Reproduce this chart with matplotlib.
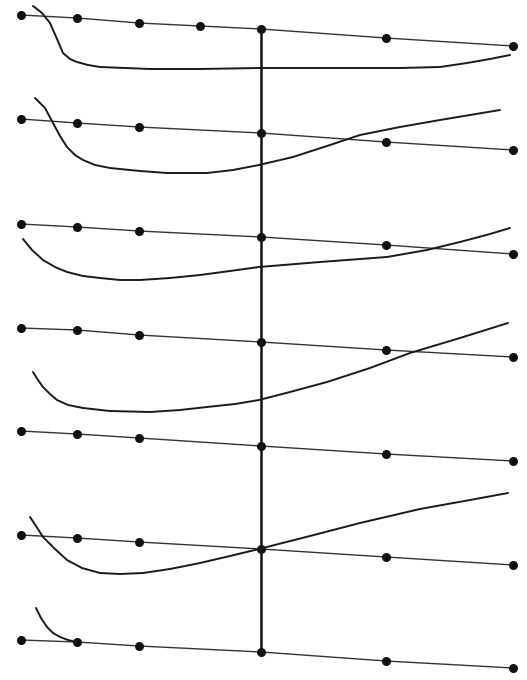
import numpy as np
from matplotlib import pyplot as plt

# dot positions along x (row 1 has one extra point at 200)
x_dots = [21, 77, 139, 261, 386, 513]
x_dots_row1 = [21, 77, 139, 200, 261, 386, 513]

# dot heights for each row (pixel-like units, measured downward)
row1 = [15, 18, 23, 26, 29, 38, 46]
row2 = [119, 123, 127, 133, 142, 150]
row3 = [224, 227, 231, 237, 245, 254]
row4 = [328, 330, 335, 342, 350, 357]
row5 = [431, 434, 438, 446, 454, 461]
row6 = [535, 538, 542, 549, 557, 565]
row7 = [640, 642, 646, 652, 661, 668]

# curves
c1_x = [33, 42, 50, 57, 63, 70, 77, 88, 100, 125, 150, 200, 259, 310, 360, 400, 440, 467, 490, 510]
c1_y = [6, 13, 23, 39, 53, 59, 62, 65, 67, 68, 69, 69, 68, 68, 68, 68, 67, 63, 59, 55]
c2_x = [35, 45, 53, 60, 67, 75, 83, 95, 110, 140, 167, 207, 233, 259, 293, 330, 360, 400, 440, 500]
c2_y = [98, 108, 123, 136, 147, 155, 160, 165, 168, 171, 173, 173, 170, 165, 157, 145, 135, 127, 120, 110]
c3_x = [23, 32, 43, 55, 67, 83, 100, 120, 140, 170, 200, 230, 259, 320, 387, 427, 460, 490, 510]
c3_y = [239, 250, 260, 267, 272, 276, 278, 280, 280, 278, 275, 271, 267, 262, 257, 250, 242, 234, 228]
c4_x = [33, 38, 43, 50, 57, 68, 83, 110, 150, 180, 207, 235, 259, 290, 327, 370, 410, 460, 508]
c4_y = [372, 380, 387, 394, 400, 405, 408, 411, 412, 410, 407, 404, 400, 392, 382, 368, 353, 338, 323]
c6_x = [30, 36, 43, 55, 67, 82, 100, 120, 143, 170, 200, 230, 259, 310, 360, 420, 470, 508]
c6_y = [517, 526, 537, 549, 560, 568, 573, 574, 573, 569, 563, 556, 549, 536, 523, 509, 500, 493]
c7_x = [36, 41, 47, 53, 60, 68, 76]
c7_y = [608, 618, 627, 633, 637, 640, 642]

fig = plt.figure(figsize=(5.27, 6.8), dpi=100)
ax = fig.add_axes([0, 0, 1, 1])
ax.set(xlim=[0, 527], ylim=[680, 0])
ax.axis('off')

# vertical reference line
ax.plot([261, 261], [row1[4], row7[3]], color='#111111', lw=1.8, zorder=1)

rows = [row2, row3, row4, row5, row6, row7]
ax.plot(x_dots_row1, row1, color='#333333', lw=1.0, marker='o', ms=5.5,
        mfc='#111111', mec='#111111')
for r in rows:
    ax.plot(x_dots, r, color='#333333', lw=1.0, marker='o', ms=5.5,
            mfc='#111111', mec='#111111')

for cx, cy in [(c1_x, c1_y), (c2_x, c2_y), (c3_x, c3_y), (c4_x, c4_y),
               (c6_x, c6_y), (c7_x, c7_y)]:
    ax.plot(cx, cy, color='#1a1a1a', lw=1.4, solid_capstyle='round')

fig.savefig('out.png', dpi=100)
